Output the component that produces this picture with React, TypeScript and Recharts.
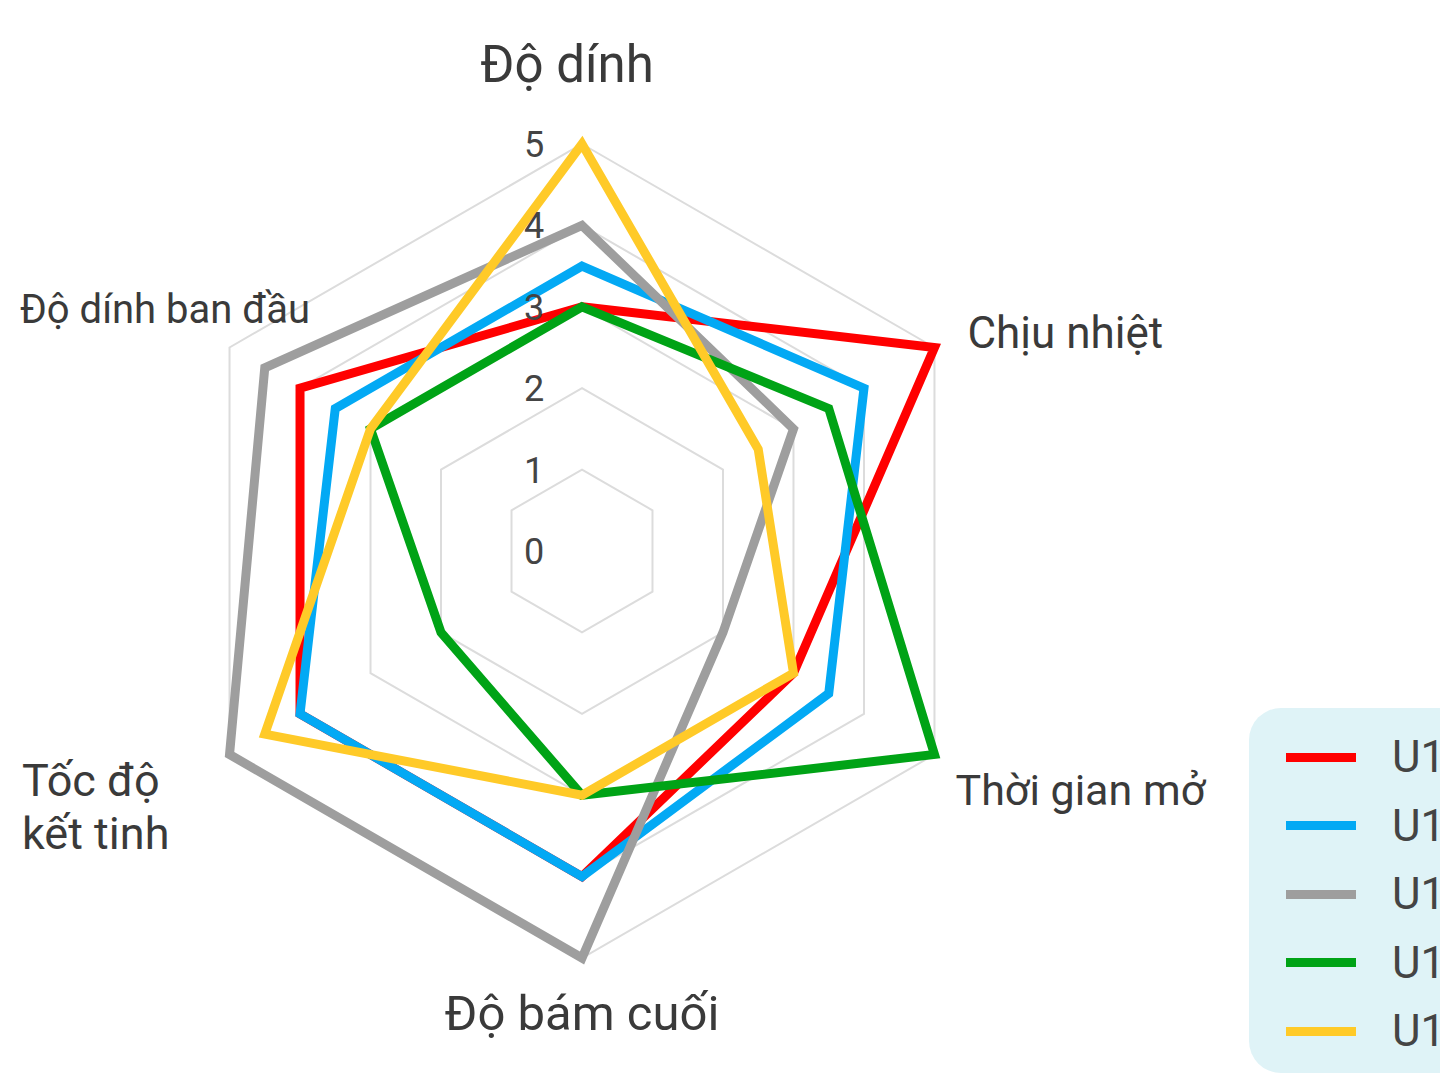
import { RadarChart, Radar, PolarGrid, PolarAngleAxis, PolarRadiusAxis, Legend } from 'recharts';

// Các tiêu chí đánh giá (trục)
const criteria = ['Độ dính', 'Chịu nhiệt', 'Thời gian mở', 'Độ bám cuối', 'Tốc độ kết tinh', 'Độ dính ban đầu'];

// Tên mẫu
const seriesNames = ['U10', 'U11', 'U12', 'U13', 'U14'];

// Điểm từng mẫu theo thứ tự tiêu chí
const u10 = [3, 5, 3, 4, 4, 4];
const u11 = [3.5, 4, 3.5, 4, 4, 3.5];
const u12 = [4, 3, 2, 5, 5, 4.5];
const u13 = [3, 3.5, 5, 3, 2, 3];
const u14 = [5, 2.5, 3, 3, 4.5, 3];

const scoreDomain = [0, 5];
const scoreTickCount = 6;

const colors = ['#ff0000', '#03a9f4', '#9e9e9e', '#00a316', '#ffca28'];

const seriesValues = [u10, u11, u12, u13, u14];

const data = criteria.map((subject, i) => {
  const row: Record<string, string | number> = { subject };
  seriesNames.forEach((name, s) => {
    row[name] = seriesValues[s][i];
  });
  return row;
});

const CX = 574;
const CY = 543;
const R = 407;
const FONT = 'Roboto, "Noto Sans", sans-serif';

const renderRadiusTick = (props: any) => {
  const { x, y, payload } = props;
  return (
    <text x={x - 48} y={y} dy="0.36em" textAnchor="middle" fontSize={36} fill="#444" fontFamily={FONT}>
      {payload.value}
    </text>
  );
};

const renderAngleTick = (props: any) => {
  const { payload, index } = props;
  const a = ((90 - index * 60) * Math.PI) / 180;
  const vx = CX + R * Math.cos(a);
  const vy = CY - R * Math.sin(a);
  const label = String(payload.value);

  let x = vx;
  let y = vy;
  let anchor: 'start' | 'middle' | 'end' = 'middle';
  let size = 44;
  let lines = [label];

  if (index === 0) {
    x = vx - 15;
    y = vy - 62;
    size = 51;
  } else if (index === 1) {
    x = vx + 33;
    y = vy;
    anchor = 'start';
  } else if (index === 2) {
    x = vx + 21;
    y = vy + 50;
    anchor = 'start';
    size = 43;
  } else if (index === 3) {
    y = vy + 72;
    size = 49;
  } else if (index === 4) {
    x = 14;
    y = vy + 41;
    anchor = 'start';
    size = 45;
    const words = label.split(' ');
    lines = [words.slice(0, 2).join(' '), words.slice(2).join(' ')];
  } else {
    x = 12;
    y = vy - 25;
    anchor = 'start';
    size = 40;
  }

  return (
    <text x={x} y={y} textAnchor={anchor} fontSize={size} fill="#3a3a3a" fontFamily={FONT}>
      {lines.map((line, i) => (
        <tspan key={i} x={x} dy={i === 0 ? 0 : 53}>
          {line}
        </tspan>
      ))}
    </text>
  );
};

const renderLegend = (props: any) => {
  const payload = props.payload || [];
  return (
    <div
      style={{
        background: '#dff3f7',
        borderRadius: 32,
        padding: '15px 0 7px 0',
        width: 320,
        fontFamily: FONT,
      }}
    >
      {payload.map((entry: any) => (
        <div key={entry.value} style={{ display: 'flex', alignItems: 'center', height: 68.5 }}>
          <span style={{ display: 'inline-block', marginLeft: 37, width: 70, height: 9, background: entry.color }} />
          <span style={{ marginLeft: 36, fontSize: 44, color: '#444', lineHeight: 1 }}>{entry.value}</span>
        </div>
      ))}
    </div>
  );
};

export default function App() {
  return (
    <div style={{ width: 1440, height: 1078, overflow: 'hidden', position: 'relative' }}>
      <RadarChart
        width={1440}
        height={1078}
        data={data}
        cx={CX}
        cy={CY}
        outerRadius={R}
        margin={{ top: 0, right: 0, bottom: 0, left: 0 }}
      >
        <PolarGrid gridType="polygon" radialLines={false} stroke="#dcdcdc" strokeWidth={2} />
        <PolarAngleAxis dataKey="subject" tick={renderAngleTick} tickLine={false} axisLine={false} />
        <PolarRadiusAxis
          angle={90}
          domain={scoreDomain}
          tickCount={scoreTickCount}
          axisLine={false}
          tick={renderRadiusTick}
        />
        {seriesNames.map((name, i) => (
          <Radar
            key={name}
            name={name}
            dataKey={name}
            stroke={colors[i]}
            strokeWidth={9}
            fill="none"
            fillOpacity={0}
            dot={false}
            isAnimationActive={false}
          />
        ))}
        <Legend
          content={renderLegend}
          wrapperStyle={{ position: 'absolute', left: 1241, top: 700, width: 320 }}
        />
      </RadarChart>
    </div>
  );
}
